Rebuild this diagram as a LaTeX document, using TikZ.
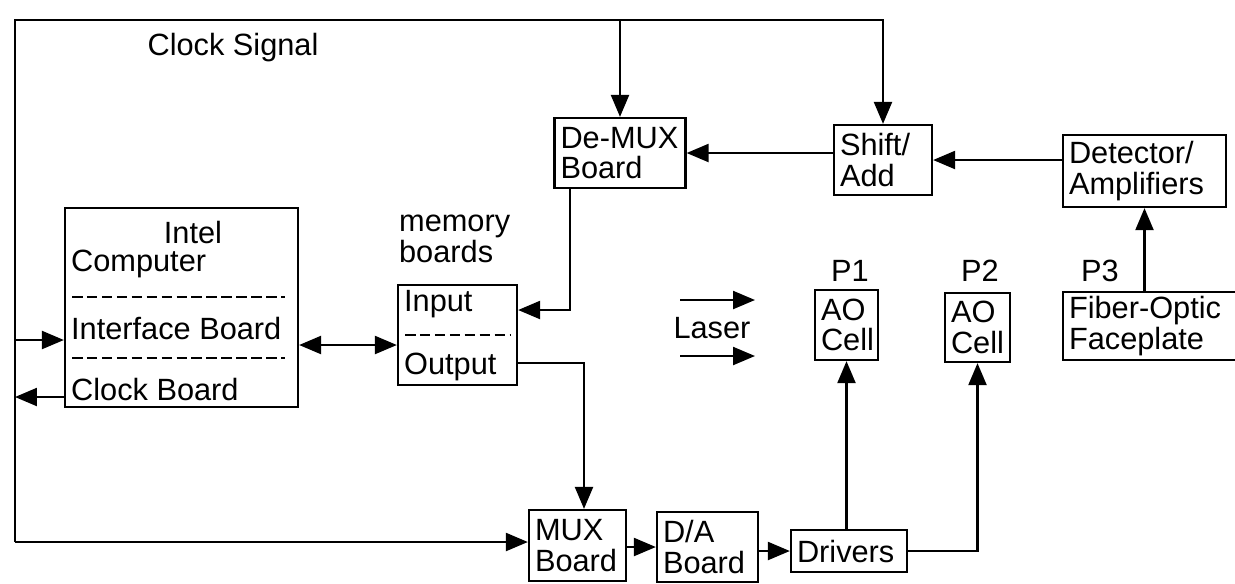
\documentclass[tikz,border=0pt]{standalone}
\usepackage{fontspec}
\setmainfont{Liberation Sans}
\usetikzlibrary{arrows.meta}
\tikzset{
  blk/.style={draw,align=left,inner xsep=0.12cm,inner ysep=0pt},
  lbl/.style={inner sep=0pt,align=left},
  sep/.style={line width=1.5pt,dash pattern=on 6pt off 2.5pt},
}
\begin{document}
\begin{tikzpicture}[x=0.02cm,y=-0.02cm,line width=1.3pt,>={Triangle[length=0.44cm,width=0.36cm]},
  font=\fontsize{17.5}{17.5}\selectfont]
  \clip (0,0) rectangle (1235,583);

  \node[blk,text width=2.38cm,minimum height=1.4cm] (demux) at (620,153) {\mbox{De-MUX}\\Board};
  \node[blk,text width=1.72cm,minimum height=1.4cm] (shift) at (883,160) {Shift/\\Add};
  \node[blk,text width=3.02cm,minimum height=1.44cm] (det) at (1144.5,171) {Detector/\\Amplifiers};
  \node[blk,text width=3.70cm,minimum height=1.36cm] (fiber) at (1161.5,326) {\mbox{Fiber-Optic}\\Faceplate};
  \node[blk,text width=1.02cm,minimum height=1.4cm] (p1) at (846.5,325) {AO\\Cell};
  \node[blk,text width=1.06cm,minimum height=1.38cm] (p2) at (977.5,327.5) {AO\\Cell};
  \node[blk,text width=1.70cm,minimum height=1.42cm] (mux) at (577.5,545.5) {MUX\\Board};
  \node[blk,text width=1.78cm,minimum height=1.4cm] (da) at (707.5,547) {D/A\\Board};
  \node[blk,text width=2.08cm,minimum height=0.84cm] (drv) at (849,551) {Drivers};
  \node[blk,inner sep=0pt,minimum width=4.66cm,minimum height=3.98cm] (intel) at (181.5,307.5) {};
  \node[blk,inner sep=0pt,minimum width=2.38cm,minimum height=2.0cm] (mem) at (457.5,335) {};

  \node[lbl] (intelt) at (193,232) {Intel};
  \node[lbl,anchor=west] (comp) at (70,264) {Computer};
  \draw[sep] (72,297) -- (285,297);
  \node[lbl,anchor=west] (ifcb) at (70,328) {Interface Board};
  \draw[sep] (72,358) -- (285,358);
  \node[lbl,anchor=west] (clkb) at (70,389) {Clock Board};

  \node[lbl,anchor=west] (inp) at (403,304) {Input};
  \draw[sep] (405,335) -- (510,335);
  \node[lbl,anchor=west] (outp) at (403,367) {Output};

  \node[lbl] (clksig) at (233,48) {Clock Signal};
  \node[lbl,anchor=north west] (memlbl) at (398,214) {memory\\boards};
  \foreach \n/\x/\lab in {lp1/850/P1,lp2/980/P2,lp3/1100/P3}
    \node[lbl] (\n) at (\x,271) {\lab};
  \node[lbl] (laser) at (712,328) {Laser};

  \coordinate (tl) at (15,20);
  \coordinate (bl) at (15,542);
  \coordinate (ifc) at (15,340);
  \coordinate (clk) at (15,397);
  \coordinate (bus) at (15,345);
  \coordinate (din) at (570,310);
  \coordinate (dout) at (584,363);

  \draw[->] (bl) -- (tl) -- (tl -| shift.north) -- (shift.north);
  \draw[->] (tl -| demux.north) -- (demux.north);
  \draw[->] (bl) -- (bl -| mux.west);
  \draw[->] (ifc) -- (ifc -| intel.west);
  \draw[->] (clk -| intel.west) -- (clk);
  \draw[<->] (bus -| intel.east) -- (bus -| mem.west);
  \draw[->] (det.west |- shift.east) -- (shift.east);
  \draw[->] (shift.west |- demux.east) -- (demux.east);
  \draw[->] (din |- demux.south) -- (din) -- (din -| mem.east);
  \draw[->] (dout -| mem.east) -- (dout) -- (dout |- mux.north);
  \draw[->] (mux.east |- da.west) -- (da.west);
  \draw[->] (da.east |- drv.west) -- (drv.west);
  \draw[->] (drv.north -| p1.south) -- (p1.south);
  \draw[->] (drv.east) -| (p2.south);
  \draw[->] (det.south |- fiber.north) -- (det.south);

  \foreach \y [count=\i] in {300,356} {
    \coordinate (ls\i) at (680,\y);
    \coordinate (le\i) at (755,\y);
    \draw[->] (ls\i) -- (le\i);
  }
\end{tikzpicture}
\end{document}
